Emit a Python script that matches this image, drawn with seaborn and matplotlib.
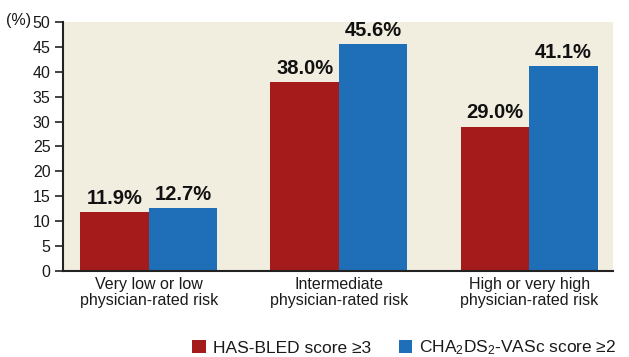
import pandas as pd
import seaborn as sns
import matplotlib.pyplot as plt

# Data
groups = ["Very low or low\nphysician-rated risk",
          "Intermediate\nphysician-rated risk",
          "High or very high\nphysician-rated risk"]
series = ["HAS-BLED score \u22653", "CHA$_2$DS$_2$-VASc score \u22652"]
has_bled = [11.9, 38.0, 29.0]
cha2ds2 = [12.7, 45.6, 41.1]
colors = ["#a51b1b", "#1f6fb8"]

df = pd.DataFrame({
    "group": groups * 2,
    "score": [series[0]] * 3 + [series[1]] * 3,
    "value": has_bled + cha2ds2,
})

sns.set_style("ticks")
plt.rcParams["font.family"] = ["Liberation Sans", "DejaVu Sans"]
plt.rcParams["mathtext.fontset"] = "custom"
plt.rcParams["mathtext.rm"] = "Liberation Sans"
plt.rcParams["mathtext.it"] = "Liberation Sans"
plt.rcParams["text.color"] = "#1a1a1a"

fig = plt.figure(figsize=(6.29, 3.57), dpi=100)
ax = fig.add_axes([0.1002, 0.2409, 0.8744, 0.6975])
ax.set_facecolor("#f2eedf")

sns.barplot(data=df, x="group", y="value", hue="score", palette=colors,
            width=0.72, saturation=1, linewidth=0, ax=ax, legend=True)

for cont in ax.containers:
    ax.bar_label(cont, labels=[f"{v:.1f}%" for v in cont.datavalues],
                 fontsize=14.5, fontweight="bold", padding=3, color="#111111")

ax.set_xlim(-0.45, 2.44)
ax.set_ylim(0, 50)
ax.set_yticks(range(0, 51, 5))
ax.set_xlabel("")
ax.set_ylabel("")
ax.tick_params(axis="y", labelsize=11.5, length=6, width=1.2, color="#222222",
               labelcolor="#1a1a1a", pad=3)
ax.tick_params(axis="x", labelsize=11.5, length=0, pad=4, labelcolor="#1a1a1a")
for lbl in ax.get_xticklabels():
    lbl.set_linespacing(1.1)
for s in ["top", "right"]:
    ax.spines[s].set_visible(False)
for s in ["left", "bottom"]:
    ax.spines[s].set_linewidth(1.5)
    ax.spines[s].set_color("#222222")

fig.text(6 / 629, 1 - 21 / 357, "(%)", fontsize=11.5, ha="left", va="center")

ax.legend(loc="lower right", bbox_to_anchor=(1.035, -0.41), ncol=2,
          frameon=False, fontsize=12.5, handlelength=0.8, handleheight=0.8,
          handletextpad=0.4, columnspacing=1.6)

fig.savefig("out.png", dpi=100)
